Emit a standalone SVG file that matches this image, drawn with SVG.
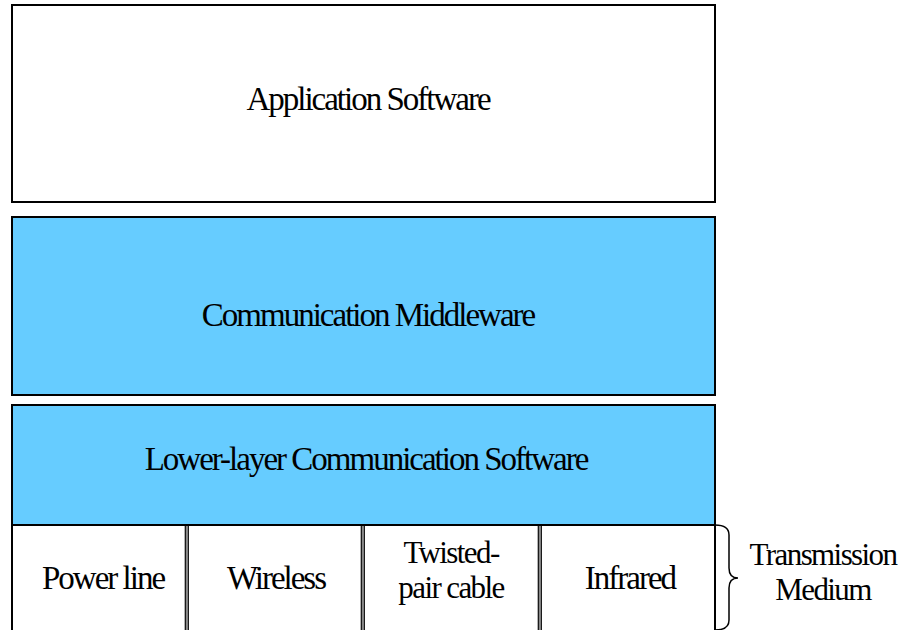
<svg xmlns="http://www.w3.org/2000/svg" width="903" height="630" viewBox="0 0 903 630">
<style>
text{font-family:"Liberation Serif","Times New Roman","DejaVu Serif","Noto Serif",serif;font-size:33px;fill:#000;text-anchor:middle;letter-spacing:-2px}
.two{font-size:31px;letter-spacing:-1.6px}
.box{stroke:#000;stroke-width:2}
.blue{fill:#66CCFF}
.white{fill:#fff}
.div{stroke:#000;stroke-width:1.2;fill:none}
.divg{stroke:#888;stroke-width:1.6}
</style>
<rect width="903" height="630" fill="#fff"/>
<g id="app">
<rect class="box white" x="12" y="5" width="703" height="197" stroke="#444" stroke-width="1.5"/>
<text x="368" y="110">Application Software</text>
</g>
<g id="middleware">
<rect class="box blue" x="12" y="217" width="703" height="178"/>
<text x="368" y="326">Communication Middleware</text>
</g>
<g id="lower">
<rect class="box blue" x="12" y="405" width="703" height="120"/>
<text x="366" y="470">Lower-layer Communication Software</text>
</g>
<g id="media">
<rect class="box white" x="12" y="525" width="703" height="110"/>
<g id="powerline"><text x="103" y="589">Power line</text></g>
<g id="wireless"><text x="276" y="589">Wireless</text></g>
<g id="twisted"><text class="two" x="451" y="563">Twisted-</text><text class="two" x="451" y="598">pair cable</text></g>
<g id="infrared"><text x="630" y="589">Infrared</text></g>
<line class="divg" x1="186.8" y1="526" x2="186.8" y2="630"/>
<line class="div" x1="185.3" y1="526" x2="185.3" y2="630"/>
<line class="div" x1="188.3" y1="526" x2="188.3" y2="630"/>
<line class="divg" x1="362.8" y1="526" x2="362.8" y2="630"/>
<line class="div" x1="361.3" y1="526" x2="361.3" y2="630"/>
<line class="div" x1="364.3" y1="526" x2="364.3" y2="630"/>
<line class="divg" x1="539.8" y1="526" x2="539.8" y2="630"/>
<line class="div" x1="538.3" y1="526" x2="538.3" y2="630"/>
<line class="div" x1="541.3" y1="526" x2="541.3" y2="630"/>
</g>
<g id="connectors">
<path d="M715 525 Q729 525 729 535 L729 568 Q729 578 738 578 Q729 578 729 588 L729 620 Q729 630 715 630" fill="none" stroke="#000" stroke-width="1.5"/>
</g>
<g id="medium-label">
<text class="two" x="823" y="565">Transmission</text>
<text class="two" x="823" y="600">Medium</text>
</g>
</svg>
